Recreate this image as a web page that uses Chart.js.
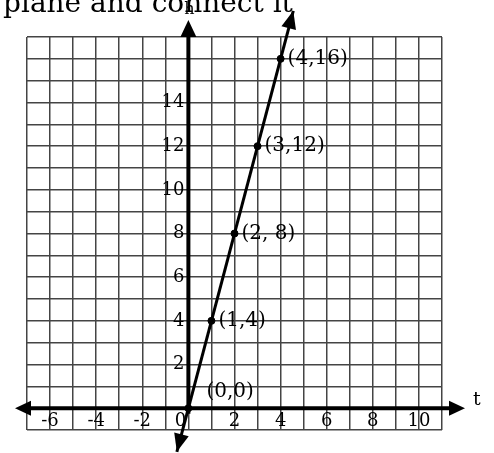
<!DOCTYPE html>
<html>
<head>
<meta charset="utf-8">
<script src="https://cdn.jsdelivr.net/npm/chart.js@4.4.0/dist/chart.umd.min.js"></script>
<style>
  html, body { margin: 0; padding: 0; background: #fff; }
  canvas { display: block; }
</style>
</head>
<body>
<canvas id="grafik" width="494" height="453"></canvas>
<script>
// titik-titik h = 4t
var tValues = [0, 1, 2, 3, 4];
var hValues = [0, 4, 8, 12, 16];
var pointLabels = ['(0,0)', '(1,4)', '(2, 8)', '(3,12)', '(4,16)'];

// ujung garis (dengan panah)
var lineT = [-0.5, 4.55];
var lineH = [-2, 18.2];

// label sumbu
var xTickLabels = [-6, -4, -2, 0, 2, 4, 6, 8, 10];
var yTickLabels = [2, 4, 6, 8, 10, 12, 14];

var serif = '"DejaVu Serif", "Liberation Serif", serif';

function drawArrow(ctx, x1, y1, x2, y2, len, half) {
    // panah segitiga di ujung (x2, y2)
    var ang = Math.atan2(y2 - y1, x2 - x1);
    ctx.save();
    ctx.translate(x2, y2);
    ctx.rotate(ang);
    ctx.beginPath();
    ctx.moveTo(0, 0);
    ctx.lineTo(-len, -half);
    ctx.lineTo(-len, half);
    ctx.closePath();
    ctx.fill();
    ctx.restore();
}

var bidangPlugin = {
    id: 'bidang',
    beforeDatasetsDraw: function(chart) {
        var ctx = chart.ctx;
        var xs = chart.scales.x, ys = chart.scales.y;
        var x0 = xs.getPixelForValue(0), y0 = ys.getPixelForValue(0);
        ctx.save();
        ctx.fillStyle = '#000';
        ctx.strokeStyle = '#000';
        ctx.lineWidth = 4;
        // sumbu t
        ctx.beginPath();
        ctx.moveTo(25, y0);
        ctx.lineTo(456, y0);
        ctx.stroke();
        drawArrow(ctx, 100, y0, 15, y0, 16, 7.5);
        drawArrow(ctx, 400, y0, 465, y0, 16, 7.5);
        // sumbu h
        ctx.beginPath();
        ctx.moveTo(x0, ys.getPixelForValue(-0.25));
        ctx.lineTo(x0, 30);
        ctx.stroke();
        drawArrow(ctx, x0, 100, x0, 20, 17, 8);
        ctx.restore();
    },
    afterDatasetsDraw: function(chart) {
        var ctx = chart.ctx;
        var xs = chart.scales.x, ys = chart.scales.y;
        var x0 = xs.getPixelForValue(0), y0 = ys.getPixelForValue(0);
        ctx.save();
        ctx.fillStyle = '#000';

        // panah di ujung garis
        var ax = xs.getPixelForValue(lineT[0]), ay = ys.getPixelForValue(lineH[0]);
        var bx = xs.getPixelForValue(lineT[1]), by = ys.getPixelForValue(lineH[1]);
        drawArrow(ctx, bx, by, ax, ay, 18, 7.5);
        drawArrow(ctx, ax, ay, bx, by, 18, 7.5);

        // label sumbu t
        ctx.font = '18px ' + serif;
        ctx.textAlign = 'center';
        ctx.textBaseline = 'middle';
        xTickLabels.forEach(function(v) {
            var px = xs.getPixelForValue(v);
            if (v === 0) px -= 8;
            ctx.fillText(String(v), px, y0 + 13);
        });

        // label sumbu h
        ctx.textAlign = 'right';
        yTickLabels.forEach(function(v) {
            ctx.fillText(String(v), x0 - 4, ys.getPixelForValue(v));
        });

        // label titik
        ctx.font = '20px ' + serif;
        ctx.textAlign = 'left';
        for (var i = 0; i < tValues.length; i++) {
            var px = xs.getPixelForValue(tValues[i]);
            var py = ys.getPixelForValue(hValues[i]);
            if (i === 0) {
                ctx.fillText(pointLabels[i], px + 18, py - 16);
            } else {
                ctx.fillText(pointLabels[i], px + 7, py);
            }
        }

        // nama sumbu
        ctx.font = '19px ' + serif;
        ctx.fillText('t', 473, y0 - 8);
        ctx.font = '16px ' + serif;
        ctx.textAlign = 'center';
        ctx.fillText('h', x0 + 1, 10);

        // teks soal di atas
        ctx.font = '28px ' + serif;
        ctx.textAlign = 'left';
        ctx.textBaseline = 'alphabetic';
        ctx.fillText('plane and connect it', 3, 12);
        ctx.restore();
    }
};

var ctx = document.getElementById('grafik').getContext('2d');
var grafik = new Chart(ctx, {
    type: 'scatter',
    data: {
        datasets: [
            {
                label: 'titik',
                data: tValues.map(function(t, i) { return {x: t, y: hValues[i]}; }),
                backgroundColor: '#000',
                borderColor: '#000',
                pointRadius: 3.5,
                pointHoverRadius: 3.5,
                showLine: false,
                order: 0
            },
            {
                label: 'h = 4t',
                data: lineT.map(function(t, i) { return {x: t, y: lineH[i]}; }),
                borderColor: '#000',
                borderWidth: 3,
                pointRadius: 0,
                showLine: true,
                clip: false,
                order: 1
            }
        ]
    },
    options: {
        responsive: false,
        animation: false,
        events: [],
        layout: {
            padding: { left: 27, right: 52, top: 37, bottom: 23 }
        },
        scales: {
            x: {
                type: 'linear',
                min: -7,
                max: 11,
                ticks: { display: false, stepSize: 1 },
                grid: { color: '#444', lineWidth: 1.5, drawTicks: false },
                border: { display: false }
            },
            y: {
                type: 'linear',
                min: -1,
                max: 17,
                ticks: { display: false, stepSize: 1 },
                grid: { color: '#444', lineWidth: 1.5, drawTicks: false },
                border: { display: false }
            }
        },
        plugins: {
            legend: { display: false },
            tooltip: { enabled: false }
        }
    },
    plugins: [bidangPlugin]
});
</script>
</body>
</html>
